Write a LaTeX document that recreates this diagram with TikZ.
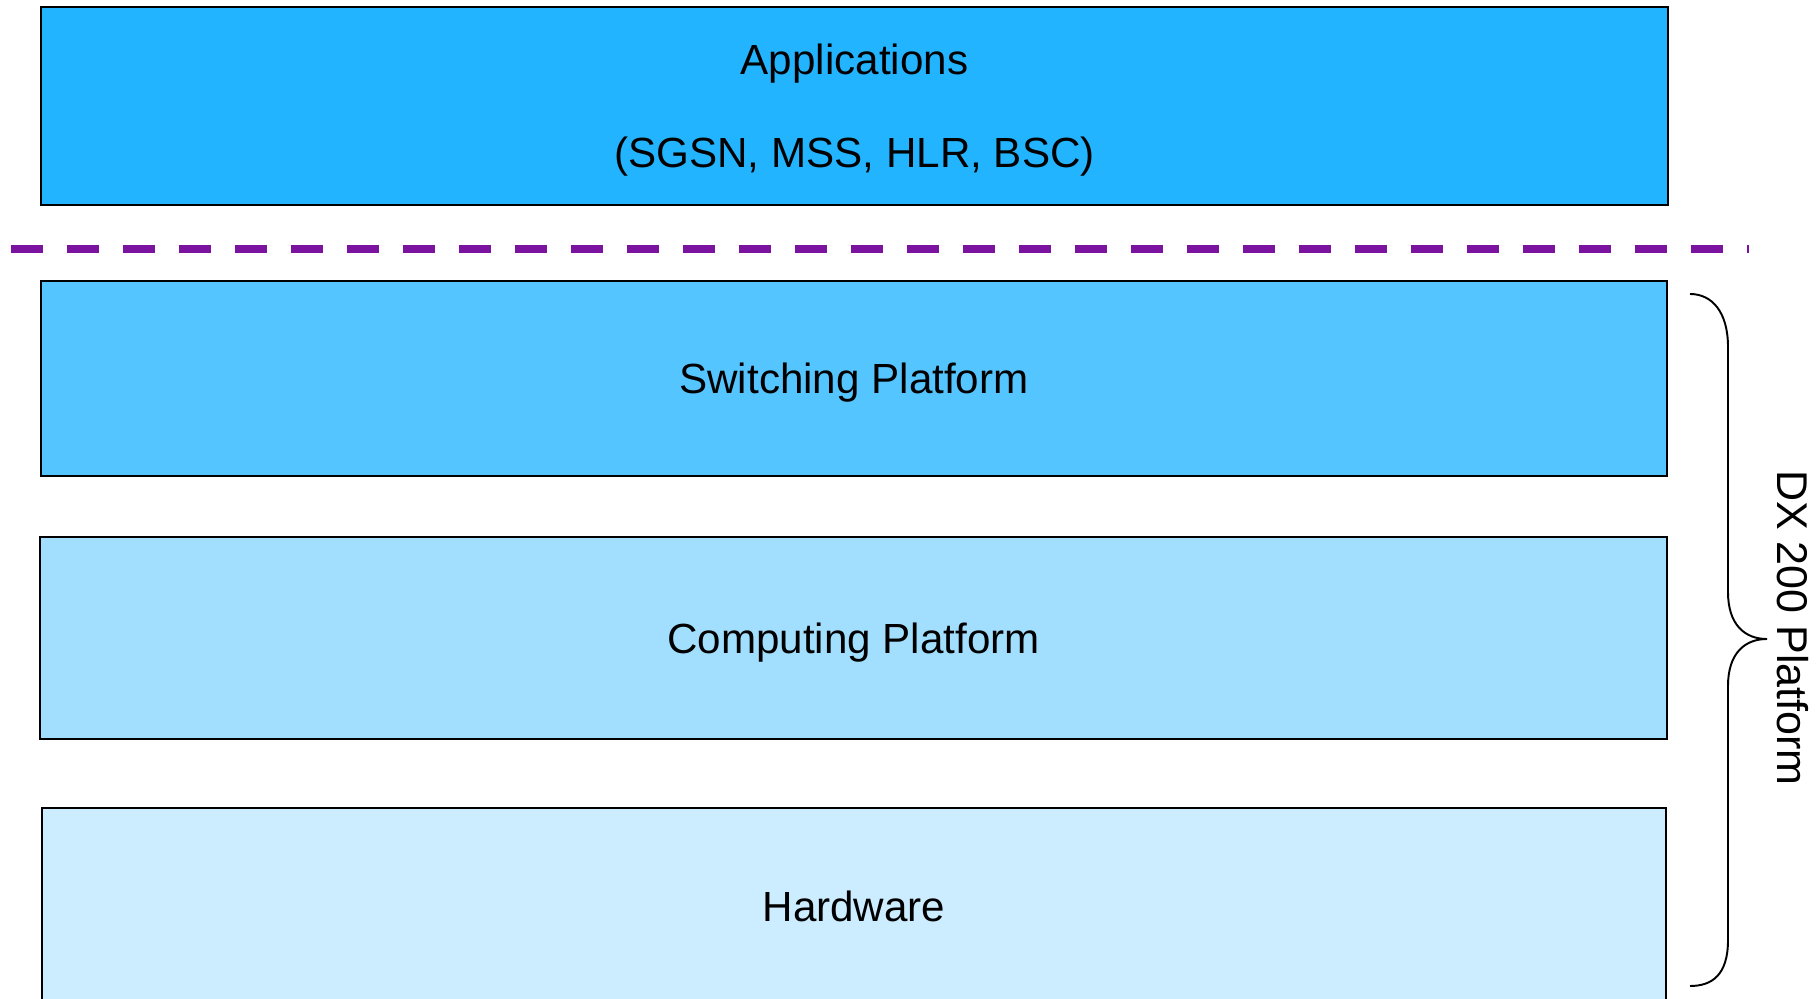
\documentclass[tikz,border=0pt]{standalone}
\usepackage{fontspec}
\setmainfont{Liberation Sans}
\definecolor{appblue}{RGB}{34,180,255}
\definecolor{swblue}{RGB}{85,197,255}
\definecolor{compblue}{RGB}{162,223,255}
\definecolor{hwblue}{RGB}{204,236,255}
\definecolor{divpurple}{RGB}{124,18,160}
\begin{document}
\begin{tikzpicture}[x=0.02cm,y=-0.02cm,
  layer/.style={draw=black, line width=1.15pt, inner sep=0pt, align=center,
                text depth=0pt, font=\fontsize{24}{29}\selectfont},
  divider/.style={draw=divpurple, line width=0.16cm, dash pattern=on 0.64cm off 0.48cm},
  bracepath/.style={draw=black, line width=1.1pt},
  sidelabel/.style={rotate=-90, inner sep=0pt, font=\fontsize{24.5}{29}\selectfont}]
\useasboundingbox (0,0) rectangle (1820,999);
\node[layer, fill=appblue, minimum width=32.54cm, minimum height=3.96cm,
      font=\fontsize{24}{52.9}\selectfont] (app) at (854.5,106)
      {Applications\\(SGSN, MSS, HLR, BSC)};
\node[layer, fill=swblue, minimum width=32.52cm, minimum height=3.9cm] (sw) at (854,378.5) {Switching Platform};
\node[layer, fill=compblue, minimum width=32.54cm, minimum height=4.04cm] (comp) at (853.5,638) {Computing Platform};
\node[layer, fill=hwblue, minimum width=32.48cm, minimum height=3.94cm] (hw) at (854,906.5) {Hardware};
\coordinate (divL) at (11,249);
\coordinate (divR) at (1749,249);
\draw[divider] (divL) -- (divR);
\coordinate (bt) at (1690,294);
\coordinate (tip) at (1767,639);
\coordinate (bb) at (1690,986);
\draw[bracepath] (bt) .. controls (1712,294) and (1728,312) .. (1728,347)
  -- (1728,592) .. controls (1728,625) and (1745,639) .. (tip)
  .. controls (1745,639) and (1728,653) .. (1728,686)
  -- (1728,940) .. controls (1728,975) and (1712,986) .. (bb);
\node[sidelabel] (dx) at (1793,628) {DX 200 Platform};
\end{tikzpicture}
\end{document}
